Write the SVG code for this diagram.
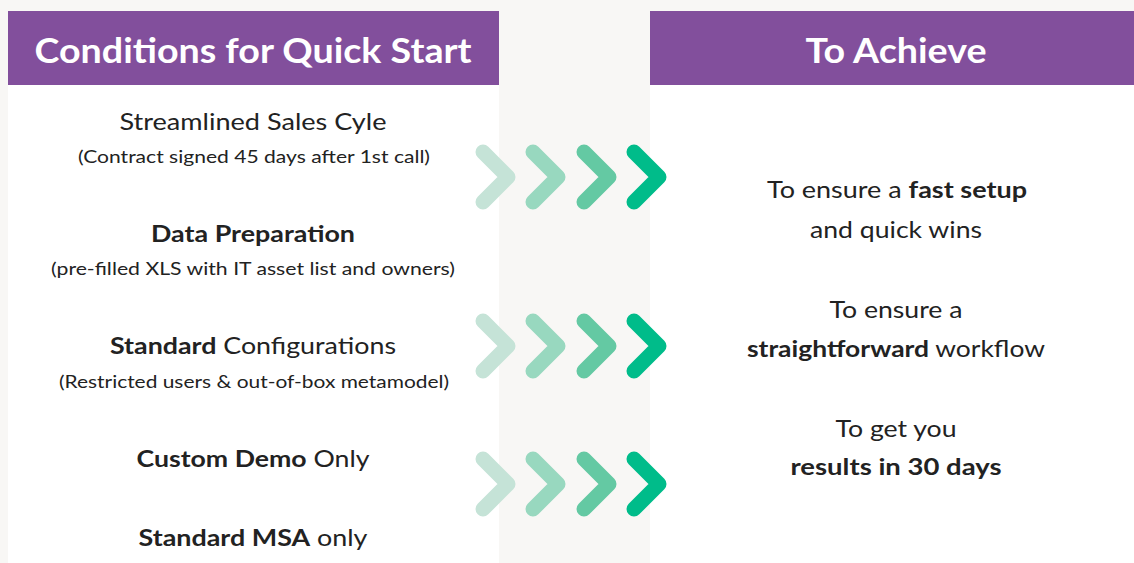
<svg xmlns="http://www.w3.org/2000/svg" width="1134" height="563" viewBox="0 0 1134 563">
<style>
.hdr{fill:#824f9c}
.panel{fill:#ffffff}
.ht{font-family:Lato,"Open Sans",sans-serif;font-weight:700;font-size:34px;fill:#ffffff;text-anchor:middle}
.t{font-family:Lato,"Open Sans",sans-serif;font-size:23px;fill:#222222;text-anchor:middle}
.s{font-family:Lato,"Open Sans",sans-serif;font-size:17px;fill:#222222;text-anchor:middle}
.b{font-weight:700}
.ch{fill:none;stroke-width:15;stroke-linecap:round;stroke-linejoin:round}
.c1{stroke:#c5e3d7}.c2{stroke:#98d8bf}.c3{stroke:#64c9a3}.c4{stroke:#00bc8a}
</style>
<defs>
<g id="chevs">
<polyline class="ch c1" points="483,-25 508,0 483,25"/>
<polyline class="ch c2" points="533,-25 558,0 533,25"/>
<polyline class="ch c3" points="584,-25 609,0 584,25"/>
<polyline class="ch c4" points="634,-25 659,0 634,25"/>
</g>
</defs>
<rect x="0" y="0" width="1134" height="563" fill="#f8f7f5"/>
<g id="left-panel">
<rect class="panel" x="8" y="85" width="491" height="478"/>
<rect class="hdr" x="8" y="11" width="491" height="74"/>
<text class="ht" x="253" y="63" textLength="437" lengthAdjust="spacingAndGlyphs">Conditions for Quick Start</text>
</g>
<g id="right-panel">
<rect class="panel" x="650" y="85" width="484" height="478"/>
<rect class="hdr" x="650" y="11" width="484" height="74"/>
<text class="ht" x="896" y="63" textLength="181" lengthAdjust="spacingAndGlyphs">To Achieve</text>
</g>
<g id="cond-1">
<text class="t" x="253" y="130" textLength="267" lengthAdjust="spacingAndGlyphs">Streamlined Sales Cyle</text>
<text class="s" x="254" y="163" textLength="352" lengthAdjust="spacingAndGlyphs">(Contract signed 45 days after 1st call)</text>
</g>
<g id="cond-2">
<text class="t b" x="253" y="242" textLength="204" lengthAdjust="spacingAndGlyphs">Data Preparation</text>
<text class="s" x="253" y="275" textLength="404" lengthAdjust="spacingAndGlyphs">(pre-filled XLS with IT asset list and owners)</text>
</g>
<g id="cond-3">
<text class="t" x="253" y="354" textLength="286" lengthAdjust="spacingAndGlyphs"><tspan class="b">Standard</tspan> Configurations</text>
<text class="s" x="254" y="388" textLength="390" lengthAdjust="spacingAndGlyphs">(Restricted users &amp; out-of-box metamodel)</text>
</g>
<g id="cond-4">
<text class="t" x="253" y="467" textLength="233" lengthAdjust="spacingAndGlyphs"><tspan class="b">Custom Demo</tspan> Only</text>
</g>
<g id="cond-5">
<text class="t" x="253" y="546" textLength="229" lengthAdjust="spacingAndGlyphs"><tspan class="b">Standard MSA</tspan> only</text>
</g>
<g id="connectors">
<use href="#chevs" transform="translate(0,177)"/>
<use href="#chevs" transform="translate(0,346)"/>
<use href="#chevs" transform="translate(0,484)"/>
</g>
<g id="goal-1">
<text class="t" x="897" y="198" textLength="260" lengthAdjust="spacingAndGlyphs">To ensure a <tspan class="b">fast setup</tspan></text>
<text class="t" x="896" y="238" textLength="172" lengthAdjust="spacingAndGlyphs">and quick wins</text>
</g>
<g id="goal-2">
<text class="t" x="896" y="318" textLength="133" lengthAdjust="spacingAndGlyphs">To ensure a</text>
<text class="t" x="896" y="357" textLength="298" lengthAdjust="spacingAndGlyphs"><tspan class="b">straightforward</tspan> workflow</text>
</g>
<g id="goal-3">
<text class="t" x="896" y="437" textLength="121" lengthAdjust="spacingAndGlyphs">To get you</text>
<text class="t b" x="896" y="475" textLength="211" lengthAdjust="spacingAndGlyphs">results in 30 days</text>
</g>
</svg>
